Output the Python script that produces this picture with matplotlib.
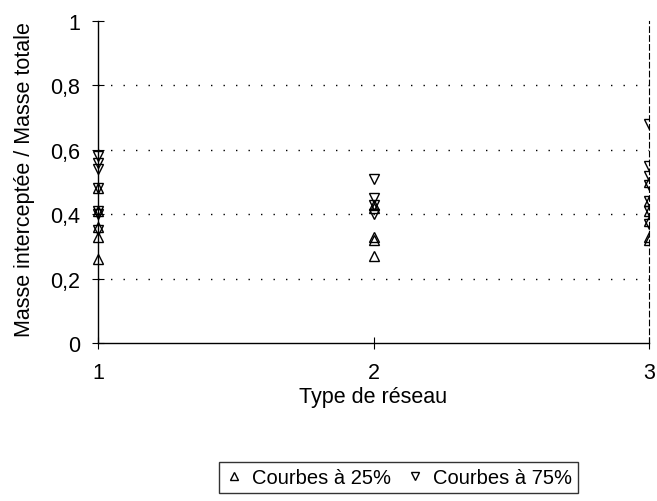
import matplotlib
matplotlib.use('Agg')
import matplotlib.pyplot as plt
from matplotlib.patches import Rectangle

plt.rcParams['font.family'] = ['Liberation Sans', 'DejaVu Sans']

# type de réseau / rapport masse interceptée pour chaque série
reseau_25 = [1, 1, 1, 1, 1, 2, 2, 2, 2, 2, 3, 3, 3, 3, 3, 3]
masse_25 = [0.48, 0.41, 0.36, 0.33, 0.26,
            0.43, 0.42, 0.33, 0.32, 0.27,
            0.50, 0.44, 0.41, 0.38, 0.33, 0.32]

reseau_75 = [1, 1, 1, 1, 1, 1, 1, 2, 2, 2, 2, 3, 3, 3, 3, 3, 3, 3]
masse_75 = [0.58, 0.56, 0.54, 0.48, 0.41, 0.40, 0.35,
            0.51, 0.45, 0.43, 0.40,
            0.68, 0.55, 0.52, 0.49, 0.44, 0.41, 0.37]

x_ticks = [1, 2, 3]
y_ticks = [0, 0.2, 0.4, 0.6, 0.8, 1]
y_labels = ['0', '0,2', '0,4', '0,6', '0,8', '1']

fig = plt.figure(figsize=(6.57, 5.02), dpi=100)
ax = fig.add_axes([98 / 657, 1 - 344 / 502, 551 / 657, 322 / 502])

# grille pointillée
for yv in y_ticks[1:-1]:
    ax.axhline(yv, color='black', lw=1.0, ls=(0, (1, 8)), zorder=1)

l25, = ax.plot(reseau_25, masse_25, ls='none', marker='^', ms=7.5, mfc='none',
               mec='black', mew=1.0, label='Courbes à 25%', zorder=3)
l75, = ax.plot(reseau_75, masse_75, ls='none', marker='v', ms=7.5, mfc='none',
               mec='black', mew=1.0, label='Courbes à 75%', zorder=3)

# on coupe à droite seulement
clip = Rectangle((-0.1, -0.1), 1.1, 1.2, transform=ax.transAxes,
                 fill=False, visible=False)
ax.add_patch(clip)
for ln in (l25, l75):
    ln.set_clip_path(clip)

ax.set_xlim(1, 3)
ax.set_ylim(0, 1)
ax.set_xticks(x_ticks)
ax.set_xticklabels([str(v) for v in x_ticks])
ax.set_yticks(y_ticks)
ax.set_yticklabels(y_labels)
ax.tick_params(direction='inout', length=8, width=0.8, labelsize=15.5)
ax.tick_params(axis='x', pad=10)
ax.tick_params(axis='y', pad=9)

ax.spines['top'].set_visible(False)
ax.spines['right'].set_linestyle((0, (5, 3)))
ax.spines['right'].set_linewidth(0.8)
ax.spines['left'].set_linewidth(1.0)
ax.spines['bottom'].set_linewidth(1.0)

ax.set_xlabel('Type de réseau', fontsize=15.5, labelpad=2)
ax.set_ylabel('Masse interceptée / Masse totale', fontsize=15.5)
ax.yaxis.set_label_coords(-0.115, 0.51)

leg = fig.legend(handles=[l25, l75], loc='upper right',
                 bbox_to_anchor=(578 / 657, 1 - 463 / 502), ncol=2,
                 fontsize=14.5, frameon=True, fancybox=False, edgecolor='black',
                 handlelength=0.8, handletextpad=0.5, columnspacing=0.8,
                 borderpad=0.3, borderaxespad=0, markerscale=0.7)
leg.get_frame().set_linewidth(1.0)

fig.savefig('out.png', dpi=100)
